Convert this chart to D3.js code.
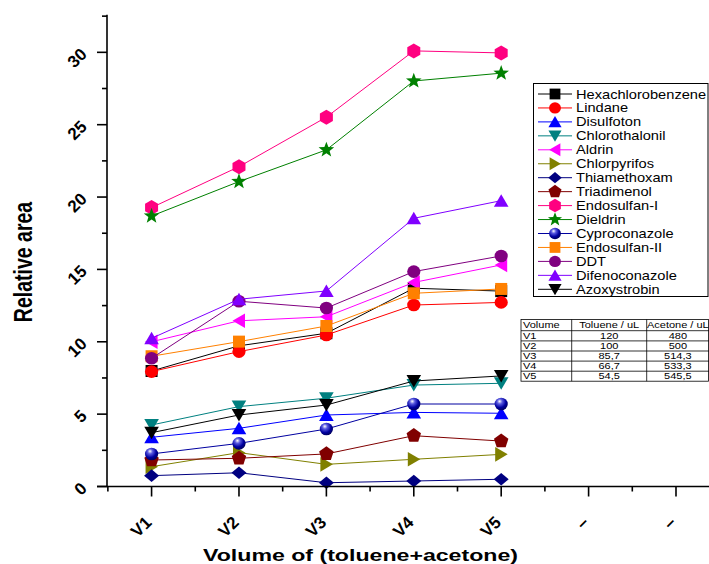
<!DOCTYPE html>
<html>
<head>
<meta charset="utf-8">
<script src="https://cdn.jsdelivr.net/npm/d3@7"></script>
<style>
  html, body { margin: 0; padding: 0; background: #fff; }
  svg { display: block; font-family: "Liberation Sans", Arial, sans-serif; }
</style>
</head>
<body>
<svg id="chart" width="709" height="564"></svg>
<script>
// Category ticks along the x axis (two unused slots at the end)
const categories = ["V1", "V2", "V3", "V4", "V5", "–", "–"];
const yTicks = [0, 5, 10, 15, 20, 25, 30];

// Relative peak areas per pesticide, V1..V5
const hexachlorobenzene = [7.98, 9.72, 10.59, 13.70, 13.50];
const lindane           = [7.94, 9.32, 10.47, 12.54, 12.72];
const disulfoton        = [3.40, 4.02, 4.94, 5.12, 5.06];
const chlorothalonil    = [4.25, 5.52, 6.10, 7.01, 7.13];
const aldrin            = [10.00, 11.45, 11.73, 14.10, 15.31];
const chlorpyrifos      = [1.37, 2.34, 1.53, 1.88, 2.22];
const thiamethoxam      = [0.75, 0.95, 0.26, 0.38, 0.50];
const triadimenol       = [1.83, 1.95, 2.25, 3.51, 3.14];
const endosulfanI       = [19.27, 22.10, 25.52, 30.10, 29.96];
const dieldrin          = [18.69, 21.07, 23.26, 28.02, 28.56];
const cyproconazole     = [2.25, 2.98, 3.97, 5.70, 5.70];
const endosulfanII      = [9.00, 10.01, 11.09, 13.35, 13.65];
const ddt               = [8.86, 12.80, 12.33, 14.85, 15.93];
const difenoconazole    = [10.24, 12.94, 13.51, 18.53, 19.75];
const azoxystrobin      = [3.72, 4.94, 5.63, 7.29, 7.64];

// Solvent composition table
const tableHeader = ["Volume", "Toluene / uL", "Acetone / uL"];
const tableVolume = ["V1", "V2", "V3", "V4", "V5"];
const tableToluene = ["120", "100", "85,7", "66,7", "54,5"];
const tableAcetone = ["480", "500", "514,3", "533,3", "545,5"];

const series = [
  { name: "Hexachlorobenzene", values: hexachlorobenzene, color: "#000000", shape: "square" },
  { name: "Lindane",           values: lindane,           color: "#ff0000", shape: "circle" },
  { name: "Disulfoton",        values: disulfoton,        color: "#0000ff", shape: "up" },
  { name: "Chlorothalonil",    values: chlorothalonil,    color: "#008080", shape: "down" },
  { name: "Aldrin",            values: aldrin,            color: "#ff00ff", shape: "left" },
  { name: "Chlorpyrifos",      values: chlorpyrifos,      color: "#808000", shape: "right" },
  { name: "Thiamethoxam",      values: thiamethoxam,      color: "#000080", shape: "diamond" },
  { name: "Triadimenol",       values: triadimenol,       color: "#800000", shape: "pentagon" },
  { name: "Endosulfan-I",      values: endosulfanI,       color: "#ff0080", shape: "hexagon" },
  { name: "Dieldrin",          values: dieldrin,          color: "#008000", shape: "star" },
  { name: "Cyproconazole",     values: cyproconazole,     color: "#0000a0", shape: "sphere" },
  { name: "Endosulfan-II",     values: endosulfanII,      color: "#ff8000", shape: "square" },
  { name: "DDT",               values: ddt,               color: "#800080", shape: "circle" },
  { name: "Difenoconazole",    values: difenoconazole,    color: "#8000ff", shape: "up" },
  { name: "Azoxystrobin",      values: azoxystrobin,      color: "#000000", shape: "down" }
];

const svg = d3.select("#chart");

// Widen a text element horizontally by the given factor
function widen(sel, factor) {
  const w = sel.node().getComputedTextLength();
  sel.attr("textLength", (w * factor).toFixed(2)).attr("lengthAdjust", "spacingAndGlyphs");
  return sel;
}

// Gradient for the shaded sphere marker
const defs = svg.append("defs");
const grad = defs.append("radialGradient").attr("id", "sphere")
  .attr("cx", "40%").attr("cy", "35%").attr("r", "65%").attr("fx", "38%").attr("fy", "28%");
grad.append("stop").attr("offset", "0%").attr("stop-color", "#ffffff");
grad.append("stop").attr("offset", "30%").attr("stop-color", "#5a5ae0");
grad.append("stop").attr("offset", "70%").attr("stop-color", "#0000a0");
grad.append("stop").attr("offset", "100%").attr("stop-color", "#000060");

// Scales
const x = d3.scaleLinear().domain([-0.51, 6.5]).range([107, 719.7]);
const y = d3.scaleLinear().domain([0, 32.6]).range([486.5, 14.7]);

// Marker path builder (k scales the marker size)
function poly(pts) { return "M" + pts.map(p => p[0].toFixed(2) + "," + p[1].toFixed(2)).join("L") + "Z"; }
function regular(n, r, rot) {
  const pts = [];
  for (let i = 0; i < n; i++) {
    const a = rot + i * 2 * Math.PI / n;
    pts.push([r * Math.cos(a), r * Math.sin(a)]);
  }
  return poly(pts);
}
function markerPath(shape, k) {
  switch (shape) {
    case "square": return poly([[-6*k,-6*k],[6*k,-6*k],[6*k,6*k],[-6*k,6*k]]);
    case "up": return poly([[0,-6.5*k],[7.3*k,6*k],[-7.3*k,6*k]]);
    case "down": return poly([[0,6.5*k],[7.3*k,-6*k],[-7.3*k,-6*k]]);
    case "left": return poly([[-6.5*k,0],[6*k,-7.3*k],[6*k,7.3*k]]);
    case "right": return poly([[6.5*k,0],[-6*k,-7.3*k],[-6*k,7.3*k]]);
    case "diamond": return poly([[0,-6.3*k],[7.5*k,0],[0,6.3*k],[-7.5*k,0]]);
    case "pentagon": return regular(5, 7.6*k, -Math.PI/2);
    case "hexagon": return regular(6, 7.5*k, -Math.PI/2);
    case "star": {
      const pts = [];
      for (let i = 0; i < 10; i++) {
        const r = (i % 2 === 0 ? 8.2 : 3.4) * k;
        const a = -Math.PI/2 + i * Math.PI / 5;
        pts.push([r * Math.cos(a), r * Math.sin(a)]);
      }
      return poly(pts);
    }
    default: return null;
  }
}
function drawMarker(g, s, cx, cy, k) {
  if (s.shape === "circle" || s.shape === "sphere") {
    g.append("ellipse").attr("cx", cx).attr("cy", cy).attr("rx", 6.6*k).attr("ry", 6.3*k)
      .attr("fill", s.shape === "sphere" ? "url(#sphere)" : s.color);
  } else {
    g.append("path").attr("d", markerPath(s.shape, k))
      .attr("transform", `translate(${cx},${cy})`).attr("fill", s.color);
  }
}

// Series lines and markers
const plot = svg.append("g");
const line = d3.line().x((d, i) => x(i)).y(d => y(d));
series.forEach(s => {
  const g = plot.append("g");
  g.append("path").attr("d", line(s.values)).attr("fill", "none")
    .attr("stroke", s.color).attr("stroke-width", 1);
  s.values.forEach((v, i) => drawMarker(g, s, x(i), y(v), 1));
});

// Axes
const axisColor = "#000";
const xAxis = svg.append("g").attr("transform", `translate(0,${y(0)})`);
xAxis.append("line").attr("x1", 97).attr("x2", 719.7).attr("stroke", axisColor).attr("stroke-width", 1.6);
categories.forEach((c, i) => {
  xAxis.append("line").attr("x1", x(i)).attr("x2", x(i)).attr("y1", 0).attr("y2", 10)
    .attr("stroke", axisColor).attr("stroke-width", 1.6);
  xAxis.append("line").attr("x1", x(i - 0.5)).attr("x2", x(i - 0.5)).attr("y1", 0).attr("y2", 5)
    .attr("stroke", axisColor).attr("stroke-width", 1.6);
  xAxis.append("text").attr("transform", `translate(${x(i) + 1},${37}) rotate(-45)`)
    .attr("text-anchor", "end").attr("font-size", 17).attr("font-weight", "bold")
    .text(c);
});
xAxis.append("line").attr("x1", x(6.5)).attr("x2", x(6.5)).attr("y1", 0).attr("y2", 5)
  .attr("stroke", axisColor).attr("stroke-width", 1.6);

const yAxis = svg.append("g").attr("transform", `translate(107,0)`);
yAxis.append("line").attr("y1", y(0)).attr("y2", y(32.6)).attr("stroke", axisColor).attr("stroke-width", 1.6);
yTicks.forEach(t => {
  yAxis.append("line").attr("x1", -10).attr("x2", 0).attr("y1", y(t)).attr("y2", y(t))
    .attr("stroke", axisColor).attr("stroke-width", 1.6);
  if (t + 2.5 < 32.6) {
    yAxis.append("line").attr("x1", -5).attr("x2", 0).attr("y1", y(t + 2.5)).attr("y2", y(t + 2.5))
      .attr("stroke", axisColor).attr("stroke-width", 1.6);
  }
  yAxis.append("text").attr("transform", `translate(-19,${y(t) + 3}) rotate(-45)`)
    .attr("text-anchor", "end").attr("font-size", 17).attr("font-weight", "bold")
    .text(t);
});

// Axis titles (drawn wide, like the rest of the figure's lettering)
widen(svg.append("text").attr("x", 360.5).attr("y", 561).attr("text-anchor", "middle")
  .attr("font-size", 17).attr("font-weight", "bold").text("Volume of (toluene+acetone)"), 1.36);
svg.append("text").attr("transform", "translate(32,262) scale(1.33,1) rotate(-90)").attr("text-anchor", "middle")
  .attr("font-size", 19.5).attr("font-weight", "bold").text("Relative area");

// Legend
const legend = svg.append("g");
legend.append("rect").attr("x", 533.5).attr("y", 83.5).attr("width", 174.5).attr("height", 213)
  .attr("fill", "#fff").attr("stroke", "#000").attr("stroke-width", 1);
series.forEach((s, i) => {
  const ly = 94 + i * 13.95;
  const g = legend.append("g");
  g.append("line").attr("x1", 538).attr("x2", 572).attr("y1", ly).attr("y2", ly)
    .attr("stroke", s.color).attr("stroke-width", 1);
  drawMarker(g, s, 555, ly, 0.9);
  widen(g.append("text").attr("x", 576).attr("y", ly + 4.5).attr("font-size", 12.2).text(s.name), 1.2);
});

// Solvent composition table
const table = svg.append("g");
const colX = [521, 571.7, 646.7, 709];
const rowY = [319.5, 330.7, 340.9, 351, 361.1, 371.2, 381.2];
const tableRows = [tableHeader].concat(tableVolume.map((v, i) => [v, tableToluene[i], tableAcetone[i]]));
table.append("rect").attr("x", colX[0]).attr("y", rowY[0]).attr("width", colX[3] - colX[0] - 0.5)
  .attr("height", rowY[6] - rowY[0]).attr("fill", "#fff").attr("stroke", "#000").attr("stroke-width", 0.8);
rowY.slice(1, 6).forEach(ry => table.append("line").attr("x1", colX[0]).attr("x2", colX[3])
  .attr("y1", ry).attr("y2", ry).attr("stroke", "#000").attr("stroke-width", 0.8));
colX.slice(1, 3).forEach(cx => table.append("line").attr("x1", cx).attr("x2", cx)
  .attr("y1", rowY[0]).attr("y2", rowY[6]).attr("stroke", "#000").attr("stroke-width", 0.8));
tableRows.forEach((row, r) => {
  const ty = rowY[r] + 8.2;
  row.forEach((cell, c) => {
    const t = table.append("text").attr("y", ty).attr("font-size", 8.8).text(cell);
    if (c === 0) t.attr("x", colX[0] + 2);
    else t.attr("x", (colX[c] + colX[c + 1]) / 2).attr("text-anchor", "middle");
    widen(t, 1.25);
  });
});
</script>
</body>
</html>
